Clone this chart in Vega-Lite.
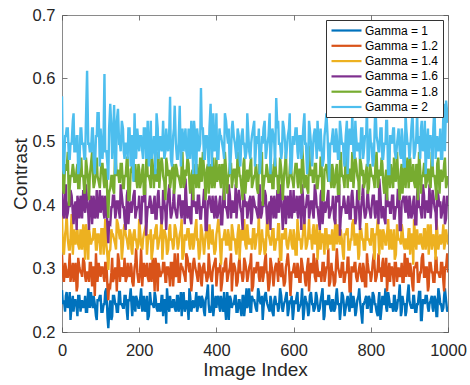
{
  "$schema": "https://vega.github.io/schema/vega-lite/v6.json",
  "width": 386,
  "height": 317,
  "autosize": {"type": "none"},
  "padding": {"left": 62, "top": 15, "right": 22, "bottom": 53},
  "background": "white",
  "config": {
    "font": "Liberation Sans",
    "view": {"stroke": "#8a8a8a", "strokeWidth": 1},
    "axis": {
      "domain": false,
      "grid": false,
      "ticks": true,
      "tickSize": -5,
      "tickColor": "#555555",
      "tickWidth": 0.8,
      "labelFlush": false,
      "labelOverlap": false,
      "labelFont": "Liberation Sans",
      "labelFontSize": 16.5,
      "labelColor": "#262626",
      "titleFont": "Liberation Sans",
      "titleFontSize": 19,
      "titleFontWeight": "normal",
      "titleColor": "#262626"
    },
    "legend": {
      "labelFont": "Liberation Sans",
      "labelFontSize": 12,
      "labelColor": "#000000"
    }
  },
  "data": {
    "values": [
      {"i":0,"a":0.266,"b":0.322,"c":0.384,"d":0.44,"e":0.495,"f":0.572},
      {"i":5,"a":0.25,"b":0.279,"c":0.322,"d":0.379,"e":0.418,"f":0.449},
      {"i":10,"a":0.257,"b":0.302,"c":0.362,"d":0.433,"e":0.456,"f":0.509},
      {"i":15,"a":0.238,"b":0.287,"c":0.346,"d":0.388,"e":0.484,"f":0.521},
      {"i":20,"a":0.263,"b":0.324,"c":0.33,"d":0.397,"e":0.427,"f":0.473},
      {"i":25,"a":0.244,"b":0.294,"c":0.386,"d":0.415,"e":0.446,"f":0.497},
      {"i":30,"a":0.232,"b":0.279,"c":0.346,"d":0.37,"e":0.456,"f":0.545},
      {"i":35,"a":0.25,"b":0.309,"c":0.338,"d":0.406,"e":0.437,"f":0.485},
      {"i":40,"a":0.225,"b":0.272,"c":0.362,"d":0.415,"e":0.465,"f":0.509},
      {"i":45,"a":0.257,"b":0.302,"c":0.33,"d":0.379,"e":0.427,"f":0.461},
      {"i":50,"a":0.244,"b":0.294,"c":0.346,"d":0.397,"e":0.475,"f":0.521},
      {"i":55,"a":0.238,"b":0.317,"c":0.37,"d":0.424,"e":0.446,"f":0.497},
      {"i":60,"a":0.257,"b":0.287,"c":0.314,"d":0.388,"e":0.427,"f":0.473},
      {"i":65,"a":0.232,"b":0.294,"c":0.354,"d":0.406,"e":0.456,"f":0.612},
      {"i":70,"a":0.25,"b":0.279,"c":0.362,"d":0.361,"e":0.408,"f":0.497},
      {"i":75,"a":0.263,"b":0.309,"c":0.338,"d":0.415,"e":0.465,"f":0.485},
      {"i":80,"a":0.238,"b":0.302,"c":0.346,"d":0.397,"e":0.446,"f":0.521},
      {"i":85,"a":0.244,"b":0.257,"c":0.362,"d":0.379,"e":0.437,"f":0.449},
      {"i":90,"a":0.219,"b":0.294,"c":0.33,"d":0.424,"e":0.475,"f":0.509},
      {"i":95,"a":0.25,"b":0.309,"c":0.354,"d":0.397,"e":0.437,"f":0.545},
      {"i":100,"a":0.257,"b":0.287,"c":0.322,"d":0.388,"e":0.446,"f":0.521},
      {"i":105,"a":0.232,"b":0.302,"c":0.362,"d":0.415,"e":0.465,"f":0.473},
      {"i":110,"a":0.244,"b":0.279,"c":0.346,"d":0.379,"e":0.427,"f":0.607},
      {"i":115,"a":0.269,"b":0.309,"c":0.338,"d":0.406,"e":0.456,"f":0.485},
      {"i":120,"a":0.206,"b":0.25,"c":0.298,"d":0.34,"e":0.38,"f":0.44},
      {"i":125,"a":0.25,"b":0.272,"c":0.33,"d":0.37,"e":0.427,"f":0.56},
      {"i":130,"a":0.225,"b":0.317,"c":0.354,"d":0.397,"e":0.446,"f":0.473},
      {"i":135,"a":0.257,"b":0.287,"c":0.346,"d":0.415,"e":0.418,"f":0.558},
      {"i":140,"a":0.244,"b":0.294,"c":0.33,"d":0.388,"e":0.465,"f":0.461},
      {"i":145,"a":0.232,"b":0.324,"c":0.37,"d":0.406,"e":0.456,"f":0.552},
      {"i":150,"a":0.263,"b":0.279,"c":0.346,"d":0.379,"e":0.437,"f":0.497},
      {"i":155,"a":0.244,"b":0.302,"c":0.314,"d":0.415,"e":0.465,"f":0.533},
      {"i":160,"a":0.238,"b":0.294,"c":0.362,"d":0.397,"e":0.427,"f":0.485},
      {"i":165,"a":0.257,"b":0.279,"c":0.354,"d":0.361,"e":0.446,"f":0.497},
      {"i":170,"a":0.219,"b":0.309,"c":0.338,"d":0.424,"e":0.475,"f":0.473},
      {"i":175,"a":0.25,"b":0.287,"c":0.362,"d":0.397,"e":0.408,"f":0.521},
      {"i":180,"a":0.244,"b":0.302,"c":0.33,"d":0.388,"e":0.456,"f":0.509},
      {"i":185,"a":0.257,"b":0.272,"c":0.354,"d":0.415,"e":0.446,"f":0.437},
      {"i":190,"a":0.232,"b":0.309,"c":0.346,"d":0.379,"e":0.465,"f":0.497},
      {"i":195,"a":0.25,"b":0.294,"c":0.33,"d":0.397,"e":0.427,"f":0.521},
      {"i":200,"a":0.238,"b":0.279,"c":0.378,"d":0.415,"e":0.456,"f":0.485},
      {"i":205,"a":0.269,"b":0.332,"c":0.338,"d":0.37,"e":0.437,"f":0.509},
      {"i":210,"a":0.244,"b":0.294,"c":0.346,"d":0.406,"e":0.465,"f":0.473},
      {"i":215,"a":0.232,"b":0.287,"c":0.362,"d":0.433,"e":0.418,"f":0.521},
      {"i":220,"a":0.257,"b":0.309,"c":0.322,"d":0.379,"e":0.484,"f":0.497},
      {"i":225,"a":0.225,"b":0.279,"c":0.354,"d":0.397,"e":0.446,"f":0.461},
      {"i":230,"a":0.25,"b":0.294,"c":0.362,"d":0.406,"e":0.427,"f":0.533},
      {"i":235,"a":0.244,"b":0.317,"c":0.33,"d":0.388,"e":0.465,"f":0.485},
      {"i":240,"a":0.263,"b":0.264,"c":0.346,"d":0.415,"e":0.456,"f":0.497},
      {"i":245,"a":0.238,"b":0.302,"c":0.37,"d":0.379,"e":0.437,"f":0.545},
      {"i":250,"a":0.244,"b":0.309,"c":0.338,"d":0.424,"e":0.484,"f":0.473},
      {"i":255,"a":0.232,"b":0.287,"c":0.354,"d":0.397,"e":0.456,"f":0.509},
      {"i":260,"a":0.257,"b":0.294,"c":0.314,"d":0.379,"e":0.465,"f":0.497},
      {"i":265,"a":0.25,"b":0.309,"c":0.362,"d":0.406,"e":0.437,"f":0.473},
      {"i":270,"a":0.213,"b":0.279,"c":0.346,"d":0.361,"e":0.475,"f":0.521},
      {"i":275,"a":0.244,"b":0.302,"c":0.33,"d":0.415,"e":0.446,"f":0.485},
      {"i":280,"a":0.257,"b":0.272,"c":0.37,"d":0.397,"e":0.427,"f":0.571},
      {"i":285,"a":0.238,"b":0.309,"c":0.346,"d":0.388,"e":0.456,"f":0.461},
      {"i":290,"a":0.25,"b":0.294,"c":0.338,"d":0.424,"e":0.418,"f":0.521},
      {"i":295,"a":0.232,"b":0.287,"c":0.362,"d":0.388,"e":0.465,"f":0.497},
      {"i":300,"a":0.257,"b":0.324,"c":0.33,"d":0.397,"e":0.446,"f":0.473},
      {"i":305,"a":0.244,"b":0.279,"c":0.354,"d":0.415,"e":0.437,"f":0.557},
      {"i":310,"a":0.225,"b":0.302,"c":0.378,"d":0.379,"e":0.465,"f":0.497},
      {"i":315,"a":0.263,"b":0.294,"c":0.322,"d":0.406,"e":0.427,"f":0.485},
      {"i":320,"a":0.238,"b":0.279,"c":0.346,"d":0.442,"e":0.456,"f":0.521},
      {"i":325,"a":0.244,"b":0.317,"c":0.362,"d":0.379,"e":0.475,"f":0.473},
      {"i":330,"a":0.269,"b":0.294,"c":0.338,"d":0.397,"e":0.437,"f":0.497},
      {"i":335,"a":0.232,"b":0.264,"c":0.354,"d":0.37,"e":0.446,"f":0.533},
      {"i":340,"a":0.25,"b":0.309,"c":0.33,"d":0.415,"e":0.408,"f":0.449},
      {"i":345,"a":0.244,"b":0.302,"c":0.362,"d":0.406,"e":0.456,"f":0.509},
      {"i":350,"a":0.232,"b":0.287,"c":0.346,"d":0.388,"e":0.465,"f":0.521},
      {"i":355,"a":0.257,"b":0.309,"c":0.314,"d":0.415,"e":0.427,"f":0.485},
      {"i":360,"a":0.238,"b":0.279,"c":0.37,"d":0.379,"e":0.446,"f":0.585},
      {"i":365,"a":0.25,"b":0.302,"c":0.346,"d":0.397,"e":0.484,"f":0.521},
      {"i":370,"a":0.225,"b":0.294,"c":0.338,"d":0.424,"e":0.437,"f":0.473},
      {"i":375,"a":0.257,"b":0.279,"c":0.362,"d":0.361,"e":0.456,"f":0.509},
      {"i":380,"a":0.244,"b":0.324,"c":0.33,"d":0.406,"e":0.418,"f":0.461},
      {"i":385,"a":0.232,"b":0.287,"c":0.346,"d":0.397,"e":0.465,"f":0.56},
      {"i":390,"a":0.275,"b":0.294,"c":0.362,"d":0.415,"e":0.446,"f":0.497},
      {"i":395,"a":0.244,"b":0.309,"c":0.322,"d":0.379,"e":0.427,"f":0.485},
      {"i":400,"a":0.238,"b":0.272,"c":0.354,"d":0.406,"e":0.475,"f":0.545},
      {"i":405,"a":0.257,"b":0.302,"c":0.378,"d":0.388,"e":0.446,"f":0.473},
      {"i":410,"a":0.232,"b":0.309,"c":0.33,"d":0.415,"e":0.437,"f":0.509},
      {"i":415,"a":0.244,"b":0.279,"c":0.346,"d":0.37,"e":0.465,"f":0.497},
      {"i":420,"a":0.263,"b":0.294,"c":0.354,"d":0.433,"e":0.408,"f":0.473},
      {"i":425,"a":0.219,"b":0.317,"c":0.338,"d":0.397,"e":0.456,"f":0.533},
      {"i":430,"a":0.25,"b":0.287,"c":0.362,"d":0.379,"e":0.446,"f":0.497},
      {"i":435,"a":0.257,"b":0.302,"c":0.33,"d":0.415,"e":0.465,"f":0.449},
      {"i":440,"a":0.238,"b":0.264,"c":0.37,"d":0.406,"e":0.427,"f":0.521},
      {"i":445,"a":0.244,"b":0.309,"c":0.346,"d":0.388,"e":0.456,"f":0.509},
      {"i":450,"a":0.257,"b":0.294,"c":0.33,"d":0.433,"e":0.437,"f":0.485},
      {"i":455,"a":0.232,"b":0.279,"c":0.354,"d":0.406,"e":0.484,"f":0.521},
      {"i":460,"a":0.25,"b":0.317,"c":0.314,"d":0.415,"e":0.446,"f":0.473},
      {"i":465,"a":0.225,"b":0.294,"c":0.362,"d":0.388,"e":0.427,"f":0.509},
      {"i":470,"a":0.257,"b":0.287,"c":0.346,"d":0.424,"e":0.465,"f":0.497},
      {"i":475,"a":0.244,"b":0.309,"c":0.338,"d":0.397,"e":0.418,"f":0.473},
      {"i":480,"a":0.238,"b":0.279,"c":0.37,"d":0.379,"e":0.456,"f":0.545},
      {"i":485,"a":0.269,"b":0.302,"c":0.338,"d":0.406,"e":0.446,"f":0.485},
      {"i":490,"a":0.232,"b":0.324,"c":0.346,"d":0.37,"e":0.475,"f":0.497},
      {"i":495,"a":0.25,"b":0.272,"c":0.362,"d":0.415,"e":0.437,"f":0.521},
      {"i":500,"a":0.244,"b":0.294,"c":0.33,"d":0.397,"e":0.446,"f":0.461},
      {"i":505,"a":0.232,"b":0.309,"c":0.354,"d":0.388,"e":0.427,"f":0.509},
      {"i":510,"a":0.263,"b":0.287,"c":0.386,"d":0.415,"e":0.465,"f":0.521},
      {"i":515,"a":0.244,"b":0.302,"c":0.33,"d":0.379,"e":0.456,"f":0.473},
      {"i":520,"a":0.219,"b":0.279,"c":0.346,"d":0.406,"e":0.399,"f":0.497},
      {"i":525,"a":0.257,"b":0.309,"c":0.322,"d":0.424,"e":0.446,"f":0.533},
      {"i":530,"a":0.25,"b":0.294,"c":0.362,"d":0.388,"e":0.465,"f":0.485},
      {"i":535,"a":0.238,"b":0.264,"c":0.354,"d":0.397,"e":0.437,"f":0.509},
      {"i":540,"a":0.257,"b":0.317,"c":0.338,"d":0.361,"e":0.456,"f":0.449},
      {"i":545,"a":0.232,"b":0.294,"c":0.362,"d":0.406,"e":0.427,"f":0.521},
      {"i":550,"a":0.25,"b":0.287,"c":0.33,"d":0.415,"e":0.465,"f":0.497},
      {"i":555,"a":0.244,"b":0.309,"c":0.346,"d":0.379,"e":0.446,"f":0.569},
      {"i":560,"a":0.232,"b":0.279,"c":0.37,"d":0.397,"e":0.418,"f":0.533},
      {"i":565,"a":0.269,"b":0.294,"c":0.314,"d":0.433,"e":0.475,"f":0.497},
      {"i":570,"a":0.238,"b":0.309,"c":0.354,"d":0.388,"e":0.437,"f":0.485},
      {"i":575,"a":0.244,"b":0.272,"c":0.346,"d":0.406,"e":0.446,"f":0.521},
      {"i":580,"a":0.257,"b":0.302,"c":0.362,"d":0.37,"e":0.484,"f":0.473},
      {"i":585,"a":0.225,"b":0.324,"c":0.33,"d":0.415,"e":0.427,"f":0.509},
      {"i":590,"a":0.25,"b":0.279,"c":0.354,"d":0.397,"e":0.456,"f":0.545},
      {"i":595,"a":0.257,"b":0.294,"c":0.338,"d":0.379,"e":0.446,"f":0.461},
      {"i":600,"a":0.232,"b":0.302,"c":0.362,"d":0.424,"e":0.427,"f":0.497},
      {"i":605,"a":0.244,"b":0.287,"c":0.322,"d":0.397,"e":0.465,"f":0.521},
      {"i":610,"a":0.263,"b":0.309,"c":0.378,"d":0.388,"e":0.437,"f":0.485},
      {"i":615,"a":0.238,"b":0.279,"c":0.346,"d":0.415,"e":0.456,"f":0.509},
      {"i":620,"a":0.25,"b":0.317,"c":0.33,"d":0.361,"e":0.418,"f":0.473},
      {"i":625,"a":0.219,"b":0.294,"c":0.362,"d":0.406,"e":0.465,"f":0.521},
      {"i":630,"a":0.257,"b":0.279,"c":0.354,"d":0.397,"e":0.446,"f":0.497},
      {"i":635,"a":0.244,"b":0.302,"c":0.338,"d":0.415,"e":0.427,"f":0.449},
      {"i":640,"a":0.232,"b":0.264,"c":0.378,"d":0.379,"e":0.494,"f":0.533},
      {"i":645,"a":0.263,"b":0.309,"c":0.354,"d":0.406,"e":0.446,"f":0.497},
      {"i":650,"a":0.244,"b":0.294,"c":0.362,"d":0.388,"e":0.437,"f":0.485},
      {"i":655,"a":0.238,"b":0.287,"c":0.338,"d":0.433,"e":0.465,"f":0.521},
      {"i":660,"a":0.257,"b":0.317,"c":0.37,"d":0.397,"e":0.427,"f":0.473},
      {"i":665,"a":0.232,"b":0.287,"c":0.346,"d":0.379,"e":0.446,"f":0.497},
      {"i":670,"a":0.25,"b":0.294,"c":0.33,"d":0.415,"e":0.475,"f":0.521},
      {"i":675,"a":0.269,"b":0.309,"c":0.354,"d":0.37,"e":0.408,"f":0.461},
      {"i":680,"a":0.225,"b":0.279,"c":0.322,"d":0.406,"e":0.456,"f":0.509},
      {"i":685,"a":0.244,"b":0.302,"c":0.362,"d":0.397,"e":0.465,"f":0.545},
      {"i":690,"a":0.257,"b":0.332,"c":0.346,"d":0.424,"e":0.437,"f":0.473},
      {"i":695,"a":0.238,"b":0.279,"c":0.338,"d":0.388,"e":0.446,"f":0.497},
      {"i":700,"a":0.25,"b":0.294,"c":0.362,"d":0.397,"e":0.465,"f":0.509},
      {"i":705,"a":0.232,"b":0.272,"c":0.33,"d":0.379,"e":0.427,"f":0.485},
      {"i":710,"a":0.257,"b":0.309,"c":0.354,"d":0.415,"e":0.456,"f":0.521},
      {"i":715,"a":0.244,"b":0.302,"c":0.37,"d":0.406,"e":0.418,"f":0.473},
      {"i":720,"a":0.219,"b":0.287,"c":0.338,"d":0.352,"e":0.465,"f":0.533},
      {"i":725,"a":0.263,"b":0.309,"c":0.346,"d":0.397,"e":0.446,"f":0.497},
      {"i":730,"a":0.244,"b":0.279,"c":0.314,"d":0.415,"e":0.437,"f":0.473},
      {"i":735,"a":0.238,"b":0.294,"c":0.354,"d":0.388,"e":0.484,"f":0.509},
      {"i":740,"a":0.257,"b":0.317,"c":0.362,"d":0.406,"e":0.427,"f":0.449},
      {"i":745,"a":0.232,"b":0.264,"c":0.33,"d":0.379,"e":0.456,"f":0.521},
      {"i":750,"a":0.244,"b":0.302,"c":0.346,"d":0.415,"e":0.446,"f":0.497},
      {"i":755,"a":0.257,"b":0.294,"c":0.378,"d":0.397,"e":0.427,"f":0.485},
      {"i":760,"a":0.225,"b":0.309,"c":0.338,"d":0.37,"e":0.475,"f":0.533},
      {"i":765,"a":0.25,"b":0.279,"c":0.354,"d":0.424,"e":0.446,"f":0.485},
      {"i":770,"a":0.269,"b":0.302,"c":0.322,"d":0.388,"e":0.408,"f":0.497},
      {"i":775,"a":0.232,"b":0.287,"c":0.362,"d":0.397,"e":0.465,"f":0.521},
      {"i":780,"a":0.244,"b":0.309,"c":0.346,"d":0.433,"e":0.456,"f":0.473},
      {"i":785,"a":0.25,"b":0.272,"c":0.33,"d":0.379,"e":0.437,"f":0.509},
      {"i":790,"a":0.238,"b":0.324,"c":0.37,"d":0.406,"e":0.465,"f":0.557},
      {"i":795,"a":0.257,"b":0.294,"c":0.346,"d":0.397,"e":0.427,"f":0.473},
      {"i":800,"a":0.232,"b":0.279,"c":0.338,"d":0.379,"e":0.456,"f":0.497},
      {"i":805,"a":0.263,"b":0.309,"c":0.362,"d":0.415,"e":0.446,"f":0.461},
      {"i":810,"a":0.244,"b":0.302,"c":0.314,"d":0.388,"e":0.427,"f":0.521},
      {"i":815,"a":0.232,"b":0.287,"c":0.354,"d":0.406,"e":0.484,"f":0.509},
      {"i":820,"a":0.25,"b":0.324,"c":0.346,"d":0.37,"e":0.437,"f":0.485},
      {"i":825,"a":0.219,"b":0.302,"c":0.362,"d":0.415,"e":0.446,"f":0.521},
      {"i":830,"a":0.257,"b":0.309,"c":0.33,"d":0.397,"e":0.465,"f":0.473},
      {"i":835,"a":0.244,"b":0.287,"c":0.354,"d":0.379,"e":0.418,"f":0.497},
      {"i":840,"a":0.238,"b":0.317,"c":0.338,"d":0.442,"e":0.456,"f":0.533},
      {"i":845,"a":0.263,"b":0.294,"c":0.378,"d":0.397,"e":0.465,"f":0.449},
      {"i":850,"a":0.238,"b":0.279,"c":0.346,"d":0.388,"e":0.427,"f":0.509},
      {"i":855,"a":0.244,"b":0.302,"c":0.33,"d":0.415,"e":0.446,"f":0.497},
      {"i":860,"a":0.257,"b":0.272,"c":0.362,"d":0.379,"e":0.475,"f":0.521},
      {"i":865,"a":0.232,"b":0.309,"c":0.322,"d":0.397,"e":0.437,"f":0.473},
      {"i":870,"a":0.25,"b":0.294,"c":0.354,"d":0.424,"e":0.456,"f":0.509},
      {"i":875,"a":0.275,"b":0.287,"c":0.346,"d":0.361,"e":0.408,"f":0.485},
      {"i":880,"a":0.232,"b":0.309,"c":0.37,"d":0.406,"e":0.465,"f":0.521},
      {"i":885,"a":0.244,"b":0.279,"c":0.338,"d":0.415,"e":0.446,"f":0.461},
      {"i":890,"a":0.225,"b":0.302,"c":0.346,"d":0.388,"e":0.427,"f":0.545},
      {"i":895,"a":0.257,"b":0.317,"c":0.33,"d":0.397,"e":0.475,"f":0.497},
      {"i":900,"a":0.25,"b":0.287,"c":0.362,"d":0.415,"e":0.446,"f":0.473},
      {"i":905,"a":0.238,"b":0.294,"c":0.354,"d":0.379,"e":0.437,"f":0.521},
      {"i":910,"a":0.257,"b":0.264,"c":0.306,"d":0.406,"e":0.465,"f":0.509},
      {"i":915,"a":0.232,"b":0.302,"c":0.346,"d":0.37,"e":0.427,"f":0.485},
      {"i":920,"a":0.244,"b":0.309,"c":0.362,"d":0.415,"e":0.456,"f":0.545},
      {"i":925,"a":0.263,"b":0.279,"c":0.338,"d":0.397,"e":0.484,"f":0.509},
      {"i":930,"a":0.219,"b":0.294,"c":0.354,"d":0.388,"e":0.418,"f":0.521},
      {"i":935,"a":0.25,"b":0.324,"c":0.33,"d":0.433,"e":0.446,"f":0.485},
      {"i":940,"a":0.244,"b":0.287,"c":0.362,"d":0.379,"e":0.465,"f":0.533},
      {"i":945,"a":0.257,"b":0.302,"c":0.346,"d":0.406,"e":0.437,"f":0.497},
      {"i":950,"a":0.232,"b":0.272,"c":0.322,"d":0.397,"e":0.456,"f":0.473},
      {"i":955,"a":0.25,"b":0.309,"c":0.37,"d":0.379,"e":0.427,"f":0.509},
      {"i":960,"a":0.238,"b":0.294,"c":0.338,"d":0.424,"e":0.465,"f":0.461},
      {"i":965,"a":0.257,"b":0.279,"c":0.346,"d":0.397,"e":0.446,"f":0.555},
      {"i":970,"a":0.225,"b":0.317,"c":0.378,"d":0.361,"e":0.408,"f":0.497},
      {"i":975,"a":0.269,"b":0.294,"c":0.33,"d":0.415,"e":0.475,"f":0.485},
      {"i":980,"a":0.244,"b":0.287,"c":0.354,"d":0.406,"e":0.446,"f":0.521},
      {"i":985,"a":0.232,"b":0.309,"c":0.346,"d":0.388,"e":0.437,"f":0.473},
      {"i":990,"a":0.257,"b":0.264,"c":0.33,"d":0.415,"e":0.465,"f":0.56},
      {"i":995,"a":0.25,"b":0.302,"c":0.362,"d":0.379,"e":0.427,"f":0.565},
      {"i":1000,"a":0.238,"b":0.294,"c":0.338,"d":0.406,"e":0.446,"f":0.53},
      {"i":2,"a":0.244,"b":0.294,"c":0.33,"d":0.388,"e":0.427,"f":0.461},
      {"i":8,"a":0.232,"b":0.309,"c":0.354,"d":0.415,"e":0.465,"f":0.509},
      {"i":12,"a":0.263,"b":0.287,"c":0.386,"d":0.379,"e":0.456,"f":0.521},
      {"i":18,"a":0.244,"b":0.302,"c":0.33,"d":0.406,"e":0.399,"f":0.473},
      {"i":22,"a":0.219,"b":0.279,"c":0.346,"d":0.424,"e":0.446,"f":0.497},
      {"i":28,"a":0.257,"b":0.309,"c":0.322,"d":0.388,"e":0.465,"f":0.533},
      {"i":32,"a":0.25,"b":0.294,"c":0.362,"d":0.397,"e":0.437,"f":0.485},
      {"i":38,"a":0.238,"b":0.264,"c":0.354,"d":0.361,"e":0.456,"f":0.509},
      {"i":42,"a":0.257,"b":0.317,"c":0.338,"d":0.406,"e":0.427,"f":0.449},
      {"i":48,"a":0.232,"b":0.294,"c":0.362,"d":0.415,"e":0.465,"f":0.521},
      {"i":52,"a":0.25,"b":0.287,"c":0.33,"d":0.379,"e":0.446,"f":0.497},
      {"i":58,"a":0.244,"b":0.309,"c":0.346,"d":0.397,"e":0.418,"f":0.473},
      {"i":62,"a":0.232,"b":0.279,"c":0.37,"d":0.433,"e":0.475,"f":0.533},
      {"i":68,"a":0.269,"b":0.294,"c":0.314,"d":0.388,"e":0.437,"f":0.497},
      {"i":72,"a":0.238,"b":0.309,"c":0.354,"d":0.406,"e":0.446,"f":0.485},
      {"i":78,"a":0.244,"b":0.272,"c":0.346,"d":0.37,"e":0.484,"f":0.521},
      {"i":82,"a":0.257,"b":0.302,"c":0.362,"d":0.415,"e":0.427,"f":0.473},
      {"i":88,"a":0.225,"b":0.324,"c":0.33,"d":0.397,"e":0.456,"f":0.509},
      {"i":92,"a":0.25,"b":0.279,"c":0.354,"d":0.379,"e":0.446,"f":0.545},
      {"i":98,"a":0.257,"b":0.294,"c":0.338,"d":0.424,"e":0.427,"f":0.461},
      {"i":102,"a":0.232,"b":0.302,"c":0.362,"d":0.397,"e":0.465,"f":0.497},
      {"i":108,"a":0.244,"b":0.287,"c":0.322,"d":0.388,"e":0.437,"f":0.521},
      {"i":112,"a":0.263,"b":0.309,"c":0.378,"d":0.415,"e":0.456,"f":0.485},
      {"i":118,"a":0.222,"b":0.268,"c":0.318,"d":0.362,"e":0.405,"f":0.462},
      {"i":122,"a":0.228,"b":0.276,"c":0.326,"d":0.372,"e":0.42,"f":0.52},
      {"i":128,"a":0.219,"b":0.294,"c":0.362,"d":0.397,"e":0.446,"f":0.521},
      {"i":132,"a":0.257,"b":0.279,"c":0.354,"d":0.415,"e":0.427,"f":0.497},
      {"i":138,"a":0.244,"b":0.302,"c":0.338,"d":0.379,"e":0.494,"f":0.449},
      {"i":142,"a":0.232,"b":0.264,"c":0.378,"d":0.406,"e":0.446,"f":0.533},
      {"i":148,"a":0.263,"b":0.309,"c":0.354,"d":0.388,"e":0.437,"f":0.497},
      {"i":152,"a":0.244,"b":0.294,"c":0.362,"d":0.433,"e":0.465,"f":0.485},
      {"i":158,"a":0.238,"b":0.287,"c":0.338,"d":0.397,"e":0.427,"f":0.521},
      {"i":162,"a":0.257,"b":0.317,"c":0.37,"d":0.379,"e":0.446,"f":0.473},
      {"i":168,"a":0.232,"b":0.287,"c":0.346,"d":0.415,"e":0.475,"f":0.497},
      {"i":172,"a":0.25,"b":0.294,"c":0.33,"d":0.37,"e":0.408,"f":0.521},
      {"i":178,"a":0.269,"b":0.309,"c":0.354,"d":0.406,"e":0.456,"f":0.461},
      {"i":182,"a":0.225,"b":0.279,"c":0.322,"d":0.397,"e":0.465,"f":0.509},
      {"i":188,"a":0.244,"b":0.302,"c":0.362,"d":0.424,"e":0.437,"f":0.545},
      {"i":192,"a":0.257,"b":0.332,"c":0.346,"d":0.388,"e":0.446,"f":0.473},
      {"i":198,"a":0.238,"b":0.279,"c":0.338,"d":0.397,"e":0.465,"f":0.497},
      {"i":202,"a":0.25,"b":0.294,"c":0.362,"d":0.379,"e":0.427,"f":0.509},
      {"i":208,"a":0.232,"b":0.272,"c":0.33,"d":0.415,"e":0.456,"f":0.485},
      {"i":212,"a":0.257,"b":0.309,"c":0.354,"d":0.406,"e":0.418,"f":0.521},
      {"i":218,"a":0.244,"b":0.302,"c":0.37,"d":0.352,"e":0.465,"f":0.473},
      {"i":222,"a":0.219,"b":0.287,"c":0.338,"d":0.397,"e":0.446,"f":0.533},
      {"i":228,"a":0.263,"b":0.309,"c":0.346,"d":0.415,"e":0.437,"f":0.497},
      {"i":232,"a":0.244,"b":0.279,"c":0.314,"d":0.388,"e":0.484,"f":0.473},
      {"i":238,"a":0.238,"b":0.294,"c":0.354,"d":0.406,"e":0.427,"f":0.509},
      {"i":242,"a":0.257,"b":0.317,"c":0.362,"d":0.379,"e":0.456,"f":0.449},
      {"i":248,"a":0.232,"b":0.264,"c":0.33,"d":0.415,"e":0.446,"f":0.521},
      {"i":252,"a":0.244,"b":0.302,"c":0.346,"d":0.397,"e":0.427,"f":0.497},
      {"i":258,"a":0.257,"b":0.294,"c":0.378,"d":0.37,"e":0.475,"f":0.485},
      {"i":262,"a":0.225,"b":0.309,"c":0.338,"d":0.424,"e":0.446,"f":0.533},
      {"i":268,"a":0.25,"b":0.279,"c":0.354,"d":0.388,"e":0.408,"f":0.485},
      {"i":272,"a":0.269,"b":0.302,"c":0.322,"d":0.397,"e":0.465,"f":0.497},
      {"i":278,"a":0.232,"b":0.287,"c":0.362,"d":0.433,"e":0.456,"f":0.521},
      {"i":282,"a":0.244,"b":0.309,"c":0.346,"d":0.379,"e":0.437,"f":0.473},
      {"i":288,"a":0.25,"b":0.272,"c":0.33,"d":0.406,"e":0.465,"f":0.509},
      {"i":292,"a":0.238,"b":0.324,"c":0.37,"d":0.397,"e":0.427,"f":0.557},
      {"i":298,"a":0.257,"b":0.294,"c":0.346,"d":0.379,"e":0.456,"f":0.473},
      {"i":302,"a":0.232,"b":0.279,"c":0.338,"d":0.415,"e":0.446,"f":0.497},
      {"i":308,"a":0.263,"b":0.309,"c":0.362,"d":0.388,"e":0.427,"f":0.461},
      {"i":312,"a":0.244,"b":0.302,"c":0.314,"d":0.406,"e":0.484,"f":0.521},
      {"i":318,"a":0.232,"b":0.287,"c":0.354,"d":0.37,"e":0.437,"f":0.509},
      {"i":322,"a":0.25,"b":0.324,"c":0.346,"d":0.415,"e":0.446,"f":0.485},
      {"i":328,"a":0.219,"b":0.302,"c":0.362,"d":0.397,"e":0.465,"f":0.521},
      {"i":332,"a":0.257,"b":0.309,"c":0.33,"d":0.379,"e":0.418,"f":0.473},
      {"i":338,"a":0.244,"b":0.287,"c":0.354,"d":0.442,"e":0.456,"f":0.497},
      {"i":342,"a":0.238,"b":0.317,"c":0.338,"d":0.397,"e":0.465,"f":0.533},
      {"i":348,"a":0.263,"b":0.294,"c":0.378,"d":0.388,"e":0.427,"f":0.449},
      {"i":352,"a":0.238,"b":0.279,"c":0.346,"d":0.415,"e":0.446,"f":0.509},
      {"i":358,"a":0.244,"b":0.302,"c":0.33,"d":0.379,"e":0.475,"f":0.497},
      {"i":362,"a":0.257,"b":0.272,"c":0.362,"d":0.397,"e":0.437,"f":0.521},
      {"i":368,"a":0.232,"b":0.309,"c":0.322,"d":0.424,"e":0.456,"f":0.473},
      {"i":372,"a":0.25,"b":0.294,"c":0.354,"d":0.361,"e":0.408,"f":0.509},
      {"i":378,"a":0.275,"b":0.287,"c":0.346,"d":0.406,"e":0.465,"f":0.485},
      {"i":382,"a":0.232,"b":0.309,"c":0.37,"d":0.415,"e":0.446,"f":0.521},
      {"i":388,"a":0.244,"b":0.279,"c":0.338,"d":0.388,"e":0.427,"f":0.461},
      {"i":392,"a":0.225,"b":0.302,"c":0.346,"d":0.397,"e":0.475,"f":0.545},
      {"i":398,"a":0.257,"b":0.317,"c":0.33,"d":0.415,"e":0.446,"f":0.497},
      {"i":402,"a":0.25,"b":0.287,"c":0.362,"d":0.379,"e":0.437,"f":0.473},
      {"i":408,"a":0.238,"b":0.294,"c":0.354,"d":0.406,"e":0.465,"f":0.521},
      {"i":412,"a":0.257,"b":0.264,"c":0.306,"d":0.37,"e":0.427,"f":0.509},
      {"i":418,"a":0.232,"b":0.302,"c":0.346,"d":0.415,"e":0.456,"f":0.485},
      {"i":422,"a":0.244,"b":0.309,"c":0.362,"d":0.397,"e":0.484,"f":0.545},
      {"i":428,"a":0.263,"b":0.279,"c":0.338,"d":0.388,"e":0.418,"f":0.509},
      {"i":432,"a":0.219,"b":0.294,"c":0.354,"d":0.433,"e":0.446,"f":0.521},
      {"i":438,"a":0.25,"b":0.324,"c":0.33,"d":0.379,"e":0.465,"f":0.485},
      {"i":442,"a":0.244,"b":0.287,"c":0.362,"d":0.406,"e":0.437,"f":0.533},
      {"i":448,"a":0.257,"b":0.302,"c":0.346,"d":0.397,"e":0.456,"f":0.497},
      {"i":452,"a":0.232,"b":0.272,"c":0.322,"d":0.379,"e":0.427,"f":0.473},
      {"i":458,"a":0.25,"b":0.309,"c":0.37,"d":0.424,"e":0.465,"f":0.509},
      {"i":462,"a":0.238,"b":0.294,"c":0.338,"d":0.397,"e":0.446,"f":0.461},
      {"i":468,"a":0.257,"b":0.279,"c":0.346,"d":0.361,"e":0.408,"f":0.521},
      {"i":472,"a":0.225,"b":0.317,"c":0.378,"d":0.415,"e":0.475,"f":0.497},
      {"i":478,"a":0.269,"b":0.294,"c":0.33,"d":0.406,"e":0.446,"f":0.485},
      {"i":482,"a":0.244,"b":0.287,"c":0.354,"d":0.388,"e":0.437,"f":0.521},
      {"i":488,"a":0.232,"b":0.309,"c":0.346,"d":0.415,"e":0.465,"f":0.473},
      {"i":492,"a":0.257,"b":0.264,"c":0.33,"d":0.379,"e":0.427,"f":0.509},
      {"i":498,"a":0.25,"b":0.302,"c":0.362,"d":0.406,"e":0.446,"f":0.533},
      {"i":502,"a":0.238,"b":0.294,"c":0.338,"d":0.397,"e":0.465,"f":0.485},
      {"i":508,"a":0.269,"b":0.309,"c":0.354,"d":0.379,"e":0.418,"f":0.497},
      {"i":512,"a":0.25,"b":0.279,"c":0.322,"d":0.433,"e":0.456,"f":0.449},
      {"i":518,"a":0.257,"b":0.302,"c":0.362,"d":0.388,"e":0.484,"f":0.509},
      {"i":522,"a":0.238,"b":0.287,"c":0.346,"d":0.397,"e":0.427,"f":0.521},
      {"i":528,"a":0.263,"b":0.324,"c":0.33,"d":0.415,"e":0.446,"f":0.473},
      {"i":532,"a":0.244,"b":0.294,"c":0.386,"d":0.37,"e":0.456,"f":0.497},
      {"i":538,"a":0.232,"b":0.279,"c":0.346,"d":0.406,"e":0.437,"f":0.545},
      {"i":542,"a":0.25,"b":0.309,"c":0.338,"d":0.415,"e":0.465,"f":0.485},
      {"i":548,"a":0.225,"b":0.272,"c":0.362,"d":0.379,"e":0.427,"f":0.509},
      {"i":552,"a":0.257,"b":0.302,"c":0.33,"d":0.397,"e":0.475,"f":0.461},
      {"i":558,"a":0.244,"b":0.294,"c":0.346,"d":0.424,"e":0.446,"f":0.521},
      {"i":562,"a":0.238,"b":0.317,"c":0.37,"d":0.388,"e":0.427,"f":0.497},
      {"i":568,"a":0.257,"b":0.287,"c":0.314,"d":0.406,"e":0.456,"f":0.473},
      {"i":572,"a":0.232,"b":0.294,"c":0.354,"d":0.361,"e":0.408,"f":0.533},
      {"i":578,"a":0.25,"b":0.279,"c":0.362,"d":0.415,"e":0.465,"f":0.497},
      {"i":582,"a":0.263,"b":0.309,"c":0.338,"d":0.397,"e":0.446,"f":0.485},
      {"i":588,"a":0.238,"b":0.302,"c":0.346,"d":0.379,"e":0.437,"f":0.521},
      {"i":592,"a":0.244,"b":0.257,"c":0.362,"d":0.424,"e":0.475,"f":0.449},
      {"i":598,"a":0.219,"b":0.294,"c":0.33,"d":0.397,"e":0.437,"f":0.509},
      {"i":602,"a":0.25,"b":0.309,"c":0.354,"d":0.388,"e":0.446,"f":0.497},
      {"i":608,"a":0.257,"b":0.287,"c":0.322,"d":0.415,"e":0.465,"f":0.521},
      {"i":612,"a":0.232,"b":0.302,"c":0.362,"d":0.379,"e":0.427,"f":0.473},
      {"i":618,"a":0.244,"b":0.279,"c":0.346,"d":0.406,"e":0.456,"f":0.509},
      {"i":622,"a":0.269,"b":0.309,"c":0.338,"d":0.433,"e":0.494,"f":0.485},
      {"i":628,"a":0.238,"b":0.294,"c":0.378,"d":0.37,"e":0.427,"f":0.545},
      {"i":632,"a":0.25,"b":0.272,"c":0.33,"d":0.397,"e":0.446,"f":0.497},
      {"i":638,"a":0.225,"b":0.317,"c":0.354,"d":0.415,"e":0.418,"f":0.473},
      {"i":642,"a":0.257,"b":0.287,"c":0.346,"d":0.388,"e":0.465,"f":0.521},
      {"i":648,"a":0.244,"b":0.294,"c":0.33,"d":0.406,"e":0.456,"f":0.461},
      {"i":652,"a":0.232,"b":0.324,"c":0.37,"d":0.379,"e":0.437,"f":0.509},
      {"i":658,"a":0.263,"b":0.279,"c":0.346,"d":0.415,"e":0.465,"f":0.497},
      {"i":662,"a":0.244,"b":0.302,"c":0.314,"d":0.397,"e":0.427,"f":0.533},
      {"i":668,"a":0.238,"b":0.294,"c":0.362,"d":0.361,"e":0.446,"f":0.485},
      {"i":672,"a":0.257,"b":0.279,"c":0.354,"d":0.424,"e":0.475,"f":0.497},
      {"i":678,"a":0.219,"b":0.309,"c":0.338,"d":0.397,"e":0.408,"f":0.473},
      {"i":682,"a":0.25,"b":0.287,"c":0.362,"d":0.388,"e":0.456,"f":0.521},
      {"i":688,"a":0.244,"b":0.302,"c":0.33,"d":0.415,"e":0.446,"f":0.509},
      {"i":692,"a":0.257,"b":0.272,"c":0.354,"d":0.379,"e":0.465,"f":0.437},
      {"i":698,"a":0.232,"b":0.309,"c":0.346,"d":0.397,"e":0.427,"f":0.497},
      {"i":702,"a":0.25,"b":0.294,"c":0.33,"d":0.415,"e":0.456,"f":0.521},
      {"i":708,"a":0.238,"b":0.279,"c":0.378,"d":0.37,"e":0.437,"f":0.485},
      {"i":712,"a":0.269,"b":0.332,"c":0.338,"d":0.406,"e":0.465,"f":0.509},
      {"i":718,"a":0.244,"b":0.294,"c":0.346,"d":0.433,"e":0.418,"f":0.473},
      {"i":722,"a":0.232,"b":0.287,"c":0.362,"d":0.379,"e":0.484,"f":0.521},
      {"i":728,"a":0.257,"b":0.309,"c":0.322,"d":0.397,"e":0.446,"f":0.497},
      {"i":732,"a":0.225,"b":0.279,"c":0.354,"d":0.406,"e":0.427,"f":0.461},
      {"i":738,"a":0.25,"b":0.294,"c":0.362,"d":0.388,"e":0.465,"f":0.533},
      {"i":742,"a":0.244,"b":0.317,"c":0.33,"d":0.415,"e":0.456,"f":0.485},
      {"i":748,"a":0.263,"b":0.264,"c":0.346,"d":0.379,"e":0.437,"f":0.497},
      {"i":752,"a":0.238,"b":0.302,"c":0.37,"d":0.424,"e":0.484,"f":0.545},
      {"i":758,"a":0.244,"b":0.309,"c":0.338,"d":0.397,"e":0.456,"f":0.473},
      {"i":762,"a":0.232,"b":0.287,"c":0.354,"d":0.379,"e":0.465,"f":0.509},
      {"i":768,"a":0.257,"b":0.294,"c":0.314,"d":0.406,"e":0.437,"f":0.497},
      {"i":772,"a":0.25,"b":0.309,"c":0.362,"d":0.361,"e":0.475,"f":0.473},
      {"i":778,"a":0.213,"b":0.279,"c":0.346,"d":0.415,"e":0.446,"f":0.521},
      {"i":782,"a":0.244,"b":0.302,"c":0.33,"d":0.397,"e":0.427,"f":0.485},
      {"i":788,"a":0.257,"b":0.272,"c":0.37,"d":0.388,"e":0.456,"f":0.509},
      {"i":792,"a":0.238,"b":0.309,"c":0.346,"d":0.424,"e":0.418,"f":0.461},
      {"i":798,"a":0.25,"b":0.294,"c":0.338,"d":0.388,"e":0.465,"f":0.521},
      {"i":802,"a":0.232,"b":0.287,"c":0.362,"d":0.397,"e":0.446,"f":0.497},
      {"i":808,"a":0.257,"b":0.324,"c":0.33,"d":0.415,"e":0.437,"f":0.473},
      {"i":812,"a":0.244,"b":0.279,"c":0.354,"d":0.379,"e":0.465,"f":0.557},
      {"i":818,"a":0.225,"b":0.302,"c":0.378,"d":0.406,"e":0.427,"f":0.497},
      {"i":822,"a":0.263,"b":0.294,"c":0.322,"d":0.442,"e":0.456,"f":0.485},
      {"i":828,"a":0.238,"b":0.279,"c":0.346,"d":0.379,"e":0.475,"f":0.521},
      {"i":832,"a":0.244,"b":0.317,"c":0.362,"d":0.397,"e":0.437,"f":0.473},
      {"i":838,"a":0.269,"b":0.294,"c":0.338,"d":0.37,"e":0.446,"f":0.497},
      {"i":842,"a":0.232,"b":0.264,"c":0.354,"d":0.415,"e":0.408,"f":0.533},
      {"i":848,"a":0.25,"b":0.309,"c":0.33,"d":0.406,"e":0.456,"f":0.449},
      {"i":852,"a":0.244,"b":0.302,"c":0.362,"d":0.388,"e":0.465,"f":0.509},
      {"i":858,"a":0.232,"b":0.287,"c":0.346,"d":0.415,"e":0.427,"f":0.521},
      {"i":862,"a":0.257,"b":0.309,"c":0.314,"d":0.379,"e":0.446,"f":0.485},
      {"i":868,"a":0.238,"b":0.279,"c":0.37,"d":0.397,"e":0.484,"f":0.497},
      {"i":872,"a":0.25,"b":0.302,"c":0.346,"d":0.424,"e":0.437,"f":0.521},
      {"i":878,"a":0.225,"b":0.294,"c":0.338,"d":0.361,"e":0.456,"f":0.473},
      {"i":882,"a":0.257,"b":0.279,"c":0.362,"d":0.406,"e":0.418,"f":0.509},
      {"i":888,"a":0.244,"b":0.324,"c":0.33,"d":0.397,"e":0.465,"f":0.461},
      {"i":892,"a":0.232,"b":0.287,"c":0.346,"d":0.415,"e":0.446,"f":0.521},
      {"i":898,"a":0.275,"b":0.294,"c":0.362,"d":0.379,"e":0.427,"f":0.497},
      {"i":902,"a":0.244,"b":0.309,"c":0.322,"d":0.406,"e":0.475,"f":0.485},
      {"i":908,"a":0.238,"b":0.272,"c":0.354,"d":0.388,"e":0.446,"f":0.545},
      {"i":912,"a":0.257,"b":0.302,"c":0.378,"d":0.415,"e":0.437,"f":0.473},
      {"i":918,"a":0.232,"b":0.309,"c":0.33,"d":0.37,"e":0.465,"f":0.509},
      {"i":922,"a":0.244,"b":0.279,"c":0.346,"d":0.433,"e":0.408,"f":0.497},
      {"i":928,"a":0.263,"b":0.294,"c":0.354,"d":0.397,"e":0.456,"f":0.473},
      {"i":932,"a":0.219,"b":0.317,"c":0.338,"d":0.379,"e":0.446,"f":0.533},
      {"i":938,"a":0.25,"b":0.287,"c":0.362,"d":0.415,"e":0.465,"f":0.497},
      {"i":942,"a":0.257,"b":0.302,"c":0.33,"d":0.406,"e":0.427,"f":0.449},
      {"i":948,"a":0.238,"b":0.264,"c":0.37,"d":0.388,"e":0.456,"f":0.521},
      {"i":952,"a":0.244,"b":0.309,"c":0.346,"d":0.433,"e":0.437,"f":0.509},
      {"i":958,"a":0.257,"b":0.294,"c":0.33,"d":0.406,"e":0.484,"f":0.485},
      {"i":962,"a":0.232,"b":0.279,"c":0.354,"d":0.415,"e":0.446,"f":0.521},
      {"i":968,"a":0.25,"b":0.317,"c":0.314,"d":0.388,"e":0.427,"f":0.473},
      {"i":972,"a":0.225,"b":0.294,"c":0.362,"d":0.424,"e":0.465,"f":0.509},
      {"i":978,"a":0.257,"b":0.287,"c":0.346,"d":0.397,"e":0.418,"f":0.497},
      {"i":982,"a":0.244,"b":0.309,"c":0.338,"d":0.379,"e":0.456,"f":0.473},
      {"i":988,"a":0.238,"b":0.279,"c":0.37,"d":0.406,"e":0.446,"f":0.545},
      {"i":992,"a":0.269,"b":0.302,"c":0.338,"d":0.37,"e":0.475,"f":0.485},
      {"i":998,"a":0.232,"b":0.324,"c":0.346,"d":0.415,"e":0.437,"f":0.545}
    ]
  },
  "transform": [
    {"fold": ["a", "b", "c", "d", "e", "f"], "as": ["series", "contrast"]}
  ],
  "layer": [
    {
      "mark": {"type": "line", "strokeWidth": 2.4, "clip": true, "strokeJoin": "miter"},
      "encoding": {
        "x": {
          "field": "i",
          "type": "quantitative",
          "scale": {"domain": [0, 1000], "nice": false},
          "axis": {
            "orient": "bottom",
            "values": [0, 200, 400, 600, 800, 1000],
            "format": "d",
            "title": "Image Index",
            "labelPadding": 15,
            "titlePadding": 2
          }
        },
        "y": {
          "field": "contrast",
          "type": "quantitative",
          "scale": {"domain": [0.2, 0.7], "nice": false, "zero": false},
          "axis": {
            "orient": "left",
            "values": [0.2, 0.3, 0.4, 0.5, 0.6, 0.7],
            "format": ".1f",
            "title": "Contrast",
            "labelPadding": 12,
            "titlePadding": 2
          }
        },
        "color": {
          "field": "series",
          "type": "nominal",
          "scale": {
            "domain": ["a", "b", "c", "d", "e", "f"],
            "range": ["#0072BD", "#D95319", "#EDB120", "#7E2F8E", "#77AC30", "#4DBEEE"]
          },
          "legend": {
            "title": null,
            "orient": "top-right",
            "offset": 5,
            "symbolType": "M-1,0H5",
            "symbolSize": 100,
            "symbolStrokeWidth": 2.2,
            "labelOffset": 22,
            "rowPadding": 2.3,
            "padding": 4,
            "fillColor": "white",
            "strokeColor": "#333333",
            "labelExpr": "datum.label == 'a' ? 'Gamma = 1' : datum.label == 'b' ? 'Gamma = 1.2' : datum.label == 'c' ? 'Gamma = 1.4' : datum.label == 'd' ? 'Gamma = 1.6' : datum.label == 'e' ? 'Gamma = 1.8' : 'Gamma = 2'"
          }
        }
      }
    },
    {
      "mark": {"type": "point", "opacity": 0},
      "encoding": {
        "x": {
          "field": "i",
          "type": "quantitative",
          "scale": {"domain": [0, 1000], "nice": false},
          "axis": {"orient": "top", "values": [0, 200, 400, 600, 800, 1000], "labels": false, "title": null}
        },
        "y": {
          "field": "contrast",
          "type": "quantitative",
          "scale": {"domain": [0.2, 0.7], "nice": false, "zero": false},
          "axis": {"orient": "right", "values": [0.2, 0.3, 0.4, 0.5, 0.6, 0.7], "labels": false, "title": null}
        }
      }
    }
  ],
  "resolve": {"axis": {"x": "independent", "y": "independent"}}
}
